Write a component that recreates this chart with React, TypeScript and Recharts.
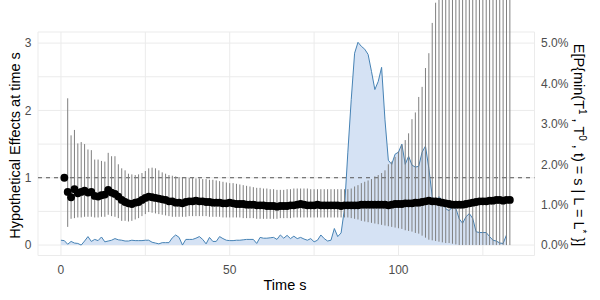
import { ComposedChart, Area, Scatter, ErrorBar, XAxis, YAxis, CartesianGrid, ReferenceLine } from "recharts"

// hypothetical effect estimate, s = 1..133
const estimate = [
  1.0, 0.79, 0.71, 0.83, 0.77, 0.79, 0.81, 0.78, 0.79, 0.73,
  0.72, 0.74, 0.75, 0.82, 0.78, 0.76, 0.72, 0.67, 0.64, 0.62,
  0.61, 0.63, 0.64, 0.67, 0.7, 0.72, 0.71, 0.7, 0.69, 0.68,
  0.67, 0.65, 0.65, 0.63, 0.63, 0.62, 0.64, 0.65, 0.65, 0.66,
  0.65, 0.65, 0.64, 0.64, 0.63, 0.63, 0.63, 0.62, 0.62, 0.63,
  0.62, 0.61, 0.61, 0.61, 0.6, 0.6, 0.6, 0.59, 0.59, 0.59,
  0.58, 0.58, 0.58, 0.57, 0.58, 0.58, 0.58, 0.59, 0.59, 0.6,
  0.61, 0.6, 0.59, 0.59, 0.59, 0.6, 0.59, 0.59, 0.59, 0.59,
  0.59, 0.59, 0.58, 0.59, 0.59, 0.59, 0.59, 0.59, 0.6, 0.6,
  0.6, 0.6, 0.6, 0.6, 0.6, 0.6, 0.59, 0.6, 0.61, 0.61,
  0.61, 0.62, 0.62, 0.62, 0.63, 0.63, 0.64, 0.65, 0.66, 0.65,
  0.65, 0.64, 0.63, 0.62, 0.61, 0.6, 0.6, 0.6, 0.6, 0.61,
  0.62, 0.63, 0.64, 0.65, 0.65, 0.65, 0.66, 0.66, 0.67, 0.67,
  0.66, 0.67, 0.67,
]

const lower = [
  1.0, 0.27, 0.39, 0.4, 0.41, 0.41, 0.42, 0.42, 0.42, 0.41,
  0.41, 0.42, 0.42, 0.45, 0.43, 0.42, 0.4, 0.36, 0.36, 0.35,
  0.36, 0.38, 0.4, 0.43, 0.46, 0.49, 0.48, 0.47, 0.46, 0.45,
  0.44, 0.43, 0.42, 0.42, 0.42, 0.42, 0.42, 0.43, 0.43, 0.43,
  0.43, 0.43, 0.43, 0.42, 0.42, 0.42, 0.42, 0.41, 0.41, 0.41,
  0.41, 0.41, 0.41, 0.4, 0.4, 0.4, 0.4, 0.39, 0.39, 0.39,
  0.39, 0.39, 0.39, 0.39, 0.4, 0.4, 0.4, 0.4, 0.41, 0.41,
  0.41, 0.41, 0.41, 0.41, 0.41, 0.41, 0.41, 0.41, 0.41, 0.41,
  0.41, 0.41, 0.41, 0.41, 0.41, 0.4, 0.39, 0.38, 0.36, 0.35,
  0.34, 0.33, 0.32, 0.31, 0.3, 0.29, 0.28, 0.27, 0.26, 0.25,
  0.24, 0.22, 0.21, 0.2, 0.18, 0.17, 0.14, 0.11, 0.08, 0.07,
  0.06, 0.05, 0.04, 0.03, 0.03, 0.02, 0.01, 0, 0, 0,
  0, 0, 0, 0, 0, 0, 0, 0, 0, 0,
  0, 0, 0,
]

const upper = [
  1.0, 2.18, 1.63, 1.71, 1.51, 1.53, 1.5, 1.42, 1.41, 1.27,
  1.27, 1.25, 1.24, 1.37, 1.32, 1.32, 1.2, 1.14, 1.11, 1.06,
  1.05, 1.04, 1.05, 1.07, 1.1, 1.14, 1.15, 1.14, 1.11, 1.08,
  1.06, 1.04, 1.03, 1.02, 1.01, 1.0, 1.01, 1.0, 1.0, 0.99,
  0.99, 0.98, 0.98, 0.97, 0.97, 0.96, 0.95, 0.94, 0.93, 0.92,
  0.92, 0.91, 0.9, 0.89, 0.88, 0.87, 0.86, 0.85, 0.85, 0.84,
  0.84, 0.83, 0.83, 0.82, 0.82, 0.82, 0.83, 0.83, 0.84, 0.84,
  0.84, 0.84, 0.84, 0.83, 0.83, 0.83, 0.83, 0.83, 0.83, 0.83,
  0.83, 0.83, 0.83, 0.83, 0.83, 0.84, 0.87, 0.89, 0.92, 0.94,
  0.96, 0.98, 1.02, 1.04, 1.07, 1.11, 1.2, 1.24, 1.31, 1.39,
  1.49, 1.56, 1.66, 1.87, 1.97, 2.2, 2.35, 2.63, 2.85, 3.3,
  3.6, 3.9, 4.2, 4.6, 5.0, 5.4, 5.9, 6.4, 7.0, 7.6,
  8.3, 9.0, 9.8, 10.7, 11.6, 12.6, 13.7, 14.9, 16.2, 17.6,
  19.1, 20.7, 22.4,
]

// E[P(min(T1, T0, t) = s | L = L*)] in percent, s = 0..132
const density = [
  0.12, 0.11, 0.02, 0.09, 0.05, 0.04, 0.0, 0.1, 0.21, 0.09,
  0.14, 0.11, 0.2, 0.08, 0.1, 0.12, 0.16, 0.13, 0.12, 0.1,
  0.1, 0.12, 0.11, 0.11, 0.11, 0.12, 0.12, 0.07, 0.05, 0.03,
  0.06, 0.06, 0.06, 0.18, 0.25, 0.19, 0.0, 0.14, 0.14, 0.14,
  0.17, 0.21, 0.14, 0.03, 0.19, 0.09, 0.09, 0.21, 0.16, 0.12,
  0.11, 0.11, 0.12, 0.12, 0.13, 0.14, 0.14, 0.14, 0.04, 0.19,
  0.17, 0.17, 0.18, 0.19, 0.14, 0.25, 0.17, 0.24, 0.16, 0.22,
  0.16, 0.19, 0.15, 0.12, 0.16, 0.08, 0.12, 0.25, 0.16, 0.1,
  0.12, 0.41, 0.21, 0.3, 0.9, 2.3, 3.6, 4.75, 5.02, 4.92,
  4.85, 4.72, 4.3, 3.85, 4.05, 4.4, 3.1, 2.1, 2.0, 2.25,
  2.3, 2.5, 2.0, 2.2, 1.98, 1.93, 1.95, 2.3, 2.45, 1.9,
  1.2, 1.05, 1.2, 1.1, 0.9, 0.85, 0.95, 0.91, 0.65, 0.54,
  0.7, 0.78, 0.66, 0.33, 0.31, 0.31, 0.31, 0.21, 0.12, 0.1,
  0.05, 0.04, 0.25,
]

const xTicks = [0, 25, 50, 75, 100, 125]
const leftTicks = [0, 0.5, 1, 1.5, 2, 2.5, 3]
const rightTicks = [0, 1, 2, 3, 4, 5]

const points = estimate.map((v, i) => ({
  s: i + 1,
  est: v,
  err: [v - lower[i], upper[i] - v],
}))
const areaRows = density.map((v, i) => ({ s: i, pct: v }))

const font = "'Liberation Sans', Arial, sans-serif"
const tickStyle = { fill: "#4d4d4d", fontSize: 12, fontFamily: font }
const yMin = -0.155
const yMax = 3.165

const Dot = (p: any) => <circle cx={p.cx} cy={p.cy} r={3.9} fill="#000" />

export default function App() {
  return (
    <div style={{ position: "absolute", left: 0, top: 0, width: 600, height: 300, background: "#fff", fontFamily: font }}>
      <ComposedChart width={600} height={300} data={areaRows} margin={{ top: 32, right: 0, bottom: 0, left: 0 }}>
        <CartesianGrid stroke="#ebebeb" yAxisId="left" />
        <XAxis
          type="number"
          dataKey="s"
          domain={[-6.8, 140.3]}
          allowDataOverflow
          ticks={xTicks}
          interval={0}
          height={44.5}
          axisLine={false}
          tickLine={false}
          tickSize={6}
          tickMargin={3.5}
          tick={tickStyle}
          tickFormatter={(v) => (v % 50 === 0 ? String(v) : "")}
        />
        <YAxis
          yAxisId="left"
          type="number"
          domain={[yMin, yMax]}
          allowDataOverflow
          ticks={leftTicks}
          interval={0}
          width={38}
          axisLine={false}
          tickLine={false}
          tickSize={4}
          tickMargin={2.5}
          tick={tickStyle}
          tickFormatter={(v) => (Number.isInteger(v) ? String(v) : "")}
        />
        <YAxis
          yAxisId="right"
          orientation="right"
          type="number"
          domain={[yMin / 0.6, yMax / 0.6]}
          allowDataOverflow
          ticks={rightTicks}
          interval={0}
          width={65.5}
          axisLine={false}
          tickLine={false}
          tickSize={4}
          tickMargin={2.5}
          tick={tickStyle}
          tickFormatter={(v) => `${v.toFixed(1)}%`}
        />
        <Area
          yAxisId="right"
          type="linear"
          dataKey="pct"
          stroke="#4682b4"
          strokeWidth={1}
          fill="#d5e2f4"
          fillOpacity={1}
          isAnimationActive={false}
        />
        <ReferenceLine yAxisId="left" y={1} stroke="#555" strokeDasharray="4 4" />
        <Scatter yAxisId="left" data={points} dataKey="est" shape={Dot} isAnimationActive={false}>
          <ErrorBar dataKey="err" direction="y" width={0} stroke="#7f7f7f" strokeWidth={1} isAnimationActive={false} />
        </Scatter>
      </ComposedChart>
      <svg width={600} height={300} style={{ position: "absolute", left: 0, top: 0, pointerEvents: "none" }}>
        <text
          transform="translate(19.5,145.5) rotate(-90)"
          textAnchor="middle"
          fontSize={14.5}
          fontFamily={font}
          fill="#000"
        >
          Hypothetical Effects at time s
        </text>
        <text x={285} y={290} textAnchor="middle" fontSize={14.5} fontFamily={font} fill="#000">
          Time s
        </text>
        <text
          transform="translate(574,145) rotate(90)"
          textAnchor="middle"
          fontSize={14.5}
          fontFamily={font}
          fill="#000"
        >
          E[P{"{"}min(T<tspan dy={-5} fontSize={10}>1</tspan>
          <tspan dy={5}> , T</tspan>
          <tspan dy={-5} fontSize={10}>0</tspan>
          <tspan dy={5}> , t) = s | L = L</tspan>
          <tspan dy={-5} fontSize={10}>*</tspan>
          <tspan dy={5}> {"}"}]</tspan>
        </text>
      </svg>
    </div>
  )
}
